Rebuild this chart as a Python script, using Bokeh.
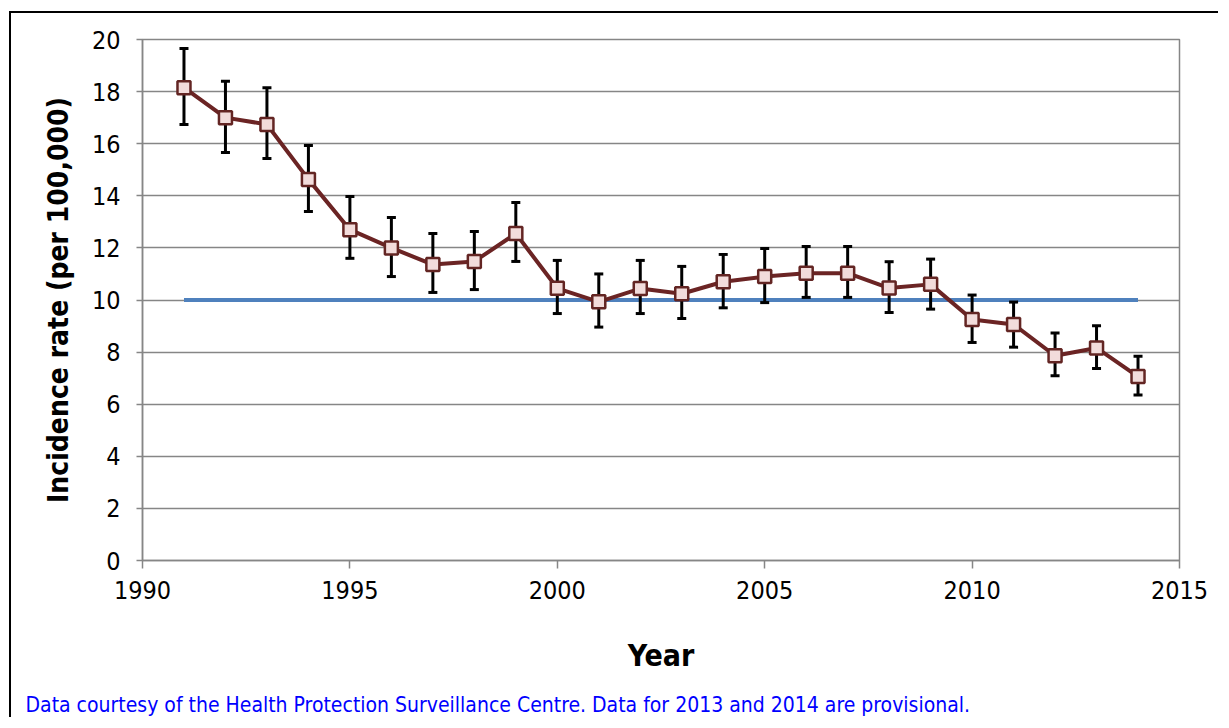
from bokeh.plotting import figure
from bokeh.models import ColumnDataSource, Range1d, FixedTicker, Label
from bokeh.embed import file_html
from bokeh.resources import INLINE

years = [1991, 1992, 1993, 1994, 1995, 1996, 1997, 1998, 1999, 2000, 2001, 2002,
         2003, 2004, 2005, 2006, 2007, 2008, 2009, 2010, 2011, 2012, 2013, 2014]
rate = [18.15, 17.0, 16.74, 14.63, 12.7, 12.0, 11.36, 11.48, 12.55, 10.45, 9.93, 10.44,
        10.24, 10.7, 10.9, 11.03, 11.03, 10.46, 10.6, 9.25, 9.06, 7.86, 8.16, 7.06]
upper = [19.65, 18.4, 18.15, 15.93, 13.97, 13.17, 12.55, 12.63, 13.74, 11.52, 11.0, 11.52,
         11.29, 11.75, 11.98, 12.05, 12.05, 11.47, 11.57, 10.19, 9.92, 8.73, 9.01, 7.84]
lower = [16.74, 15.66, 15.43, 13.4, 11.6, 10.9, 10.29, 10.4, 11.48, 9.48, 8.96, 9.48,
         9.29, 9.7, 9.9, 10.1, 10.1, 9.52, 9.65, 8.37, 8.19, 7.09, 7.37, 6.35]
target = [10] * len(years)
x_ticks = [1990, 1995, 2000, 2005, 2010, 2015]
y_ticks = [0, 2, 4, 6, 8, 10, 12, 14, 16, 18, 20]
footnote = "Data courtesy of the Health Protection Surveillance Centre. Data for 2013 and 2014 are provisional."

FONT = "DejaVu Sans Condensed"
GRAY = "#868686"

src = ColumnDataSource(dict(year=years, rate=rate, upper=upper, lower=lower, target=target))

p = figure(width=1209, height=706, output_backend="svg", toolbar_location=None,
           x_range=Range1d(1990, 2015), y_range=Range1d(0, 20),
           min_border_left=131, min_border_top=26, min_border_bottom=159, min_border_right=41,
           styles={"border-left": "2px solid black", "border-top": "2px solid black",
                   "margin-left": "9px", "margin-top": "11px"})

p.background_fill_color = "white"
p.border_fill_color = "white"
p.outline_line_color = GRAY
p.outline_line_width = 1.5

p.xgrid.grid_line_color = None
p.ygrid.grid_line_color = GRAY
p.ygrid.grid_line_width = 1.5

p.xaxis.ticker = FixedTicker(ticks=x_ticks)
p.yaxis.ticker = FixedTicker(ticks=y_ticks)
for ax in (p.xaxis[0], p.yaxis[0]):
    ax.axis_line_color = GRAY
    ax.axis_line_width = 1.5
    ax.major_tick_line_color = GRAY
    ax.major_tick_line_width = 1.5
    ax.major_tick_in = 0
    ax.minor_tick_line_color = None
    ax.major_label_text_font = FONT
    ax.major_label_text_font_size = "25px"
    ax.major_label_text_color = "black"
    ax.axis_label_text_font = FONT
    ax.axis_label_text_font_style = "bold"
    ax.axis_label_text_color = "black"

p.xaxis.major_tick_out = 8
p.xaxis.major_label_standoff = 12
p.xaxis.axis_label = "Year"
p.xaxis.axis_label_text_font_size = "30px"
p.xaxis.axis_label_standoff = 36

p.yaxis.major_tick_out = 6
p.yaxis.major_label_standoff = 16
p.yaxis.axis_label = "Incidence rate (per 100,000)"
p.yaxis.axis_label_text_font_size = "28px"
p.yaxis.axis_label_standoff = 14

# target line
p.line("year", "target", source=src, line_color="#4F81BD", line_width=4)

# error bars
p.segment(x0="year", y0="lower", x1="year", y1="upper", source=src,
          line_color="black", line_width=3)
p.scatter("year", "upper", source=src, marker="dash", size=9, line_color="black", line_width=3)
p.scatter("year", "lower", source=src, marker="dash", size=9, line_color="black", line_width=3)

# series
p.line("year", "rate", source=src, line_color="#6B2424", line_width=4)
p.scatter("year", "rate", source=src, marker="square", size=13,
          fill_color="#F2DCDB", line_color="#632523", line_width=2.5)

note = Label(x=12, y=677, x_units="canvas", y_units="canvas", text=footnote,
             text_font=FONT, text_font_size="21px", text_color="#0000FF",
             text_baseline="top")
p.add_layout(note, "below")

open("out.html", "w").write(file_html(p, INLINE))
